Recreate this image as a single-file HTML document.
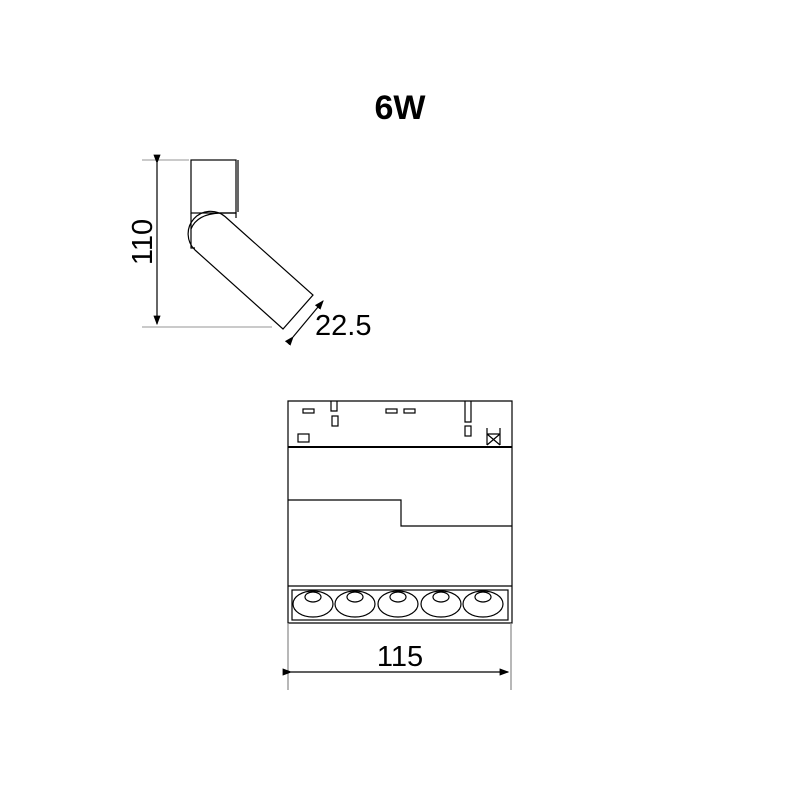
<!DOCTYPE html>
<html><head><style>body{margin:0;background:#fff}</style></head><body>
<svg width="800" height="800" viewBox="0 0 800 800" xmlns="http://www.w3.org/2000/svg" font-family="Liberation Sans, sans-serif">
<defs><marker id="a" markerWidth="8" markerHeight="6" refX="7" refY="3" orient="auto"><path d="M0,0L8,3L0,6z" fill="#000"/></marker></defs>
<text x="400" y="119" font-size="34" font-weight="bold" text-anchor="middle">6W</text>
<g stroke="#000" fill="none" stroke-width="1.2">
<line x1="142" y1="160" x2="189" y2="160" stroke="#aaa"/>
<line x1="142" y1="327" x2="272" y2="327" stroke="#aaa"/>
<line x1="157" y1="163" x2="157" y2="324" marker-start="url(#a)" marker-end="url(#a)"/>
<rect x="191" y="160" width="45" height="53"/>
<line x1="238" y1="160" x2="238" y2="212"/>
<path d="M191 213 V248 H195"/>
<path d="M191 229 Q197 214 220 213 H236 V218"/>
<path d="M195 250 L283 329 L313 295 L225 216.5 A22.5 22.5 0 0 0 195 250 Z"/>
<line x1="293" y1="337" x2="323" y2="301" marker-start="url(#a)" marker-end="url(#a)"/>
</g>
<text transform="translate(152,242) rotate(-90)" font-size="29" text-anchor="middle">110</text>
<text x="315" y="335" font-size="29">22.5</text>
<g stroke="#000" fill="none" stroke-width="1.2">
<path d="M288 447 V401 H512 V447"/>
<line x1="288" y1="447" x2="512" y2="447" stroke-width="2"/>
<rect x="303" y="409" width="11" height="4"/><rect x="386" y="409" width="11" height="4"/><rect x="404" y="409" width="11" height="4"/>
<path d="M331 401 V411 H337 V401"/><path d="M465 401 V422 H471 V401"/>
<rect x="332" y="416" width="6" height="10"/><rect x="465" y="426" width="6" height="10"/>
<rect x="298" y="434" width="11" height="8"/>
<path d="M487 445 V428 M500 445 V428 M487 434 L500 445 M500 434 L487 445 M487 434 H500"/>
<path d="M288 447 V623 H512 V447"/>
<path d="M288 500 H401 V526 H512"/>
<line x1="288" y1="586" x2="512" y2="586"/>
<rect x="292" y="590" width="216" height="30"/>
<g>
<ellipse cx="313" cy="604" rx="20" ry="13"/><ellipse cx="313" cy="597" rx="8" ry="5"/>
<ellipse cx="355" cy="604" rx="20" ry="13"/><ellipse cx="355" cy="597" rx="8" ry="5"/>
<ellipse cx="398" cy="604" rx="20" ry="13"/><ellipse cx="398" cy="597" rx="8" ry="5"/>
<ellipse cx="441" cy="604" rx="20" ry="13"/><ellipse cx="441" cy="597" rx="8" ry="5"/>
<ellipse cx="483" cy="604" rx="20" ry="13"/><ellipse cx="483" cy="597" rx="8" ry="5"/>
</g>
<line x1="288" y1="623" x2="288" y2="690" stroke="#888"/>
<line x1="511" y1="623" x2="511" y2="690" stroke="#888"/>
<line x1="291" y1="672" x2="508" y2="672" marker-start="url(#a)" marker-end="url(#a)"/>
</g>
<text x="400" y="666" font-size="29" text-anchor="middle">115</text>
</svg>
</body></html>
